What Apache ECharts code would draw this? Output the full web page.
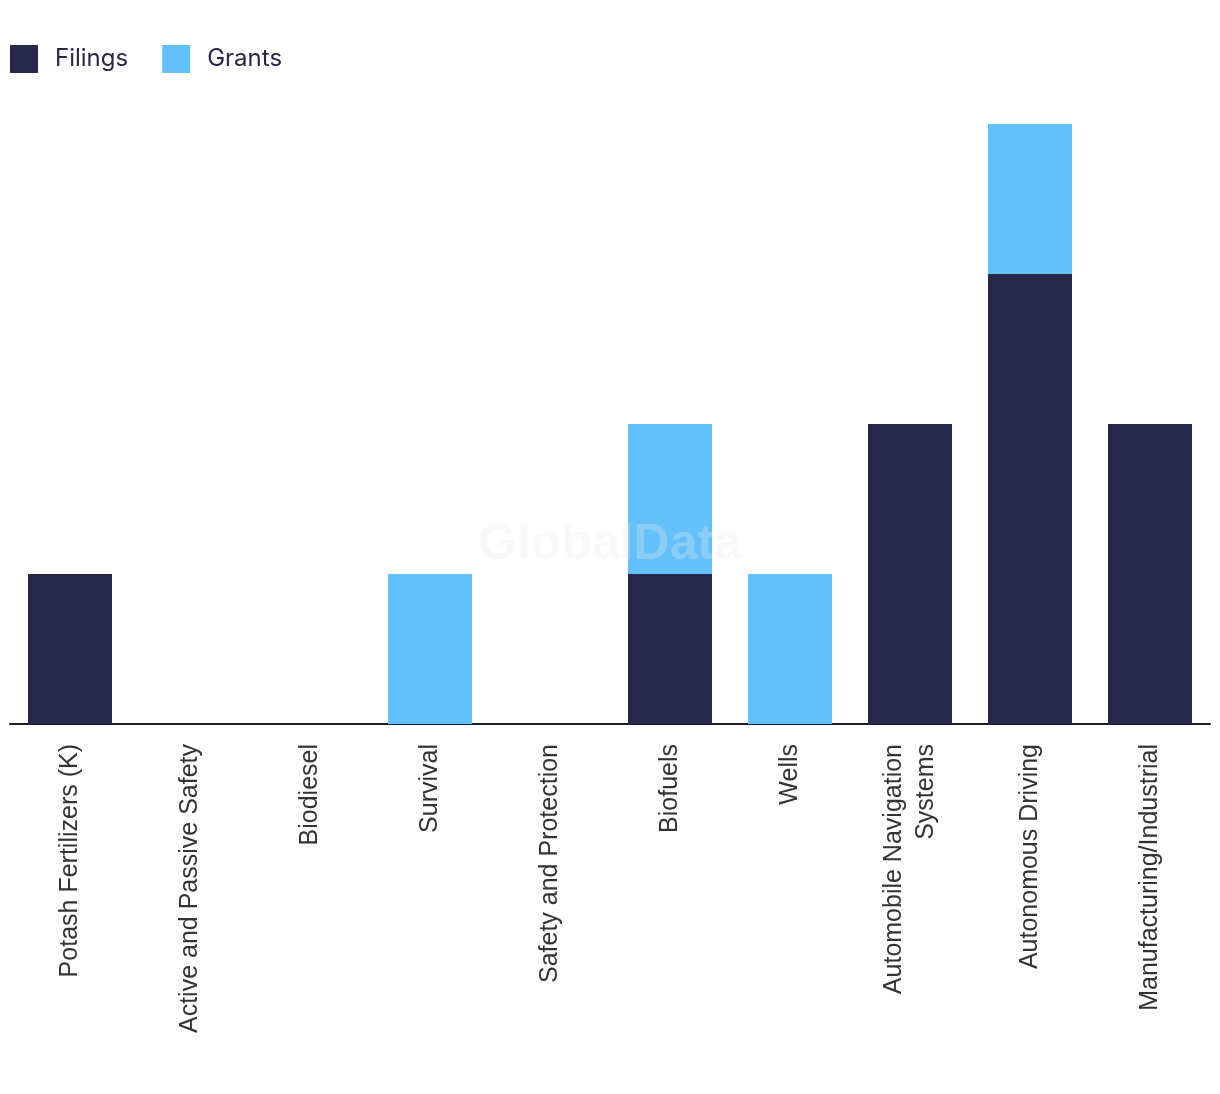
<!DOCTYPE html>
<html>
<head>
<meta charset="utf-8">
<script src="https://cdn.jsdelivr.net/npm/echarts@6/dist/echarts.min.js"></script>
<style>html,body{margin:0;padding:0;background:#fff}#c{width:1220px;height:1094px}</style>
</head>
<body>
<div id="c"></div>
<script>
const categories = ["Potash Fertilizers (K)", "Active and Passive Safety", "Biodiesel", "Survival", "Safety and Protection", "Biofuels", "Wells", "Automobile Navigation\nSystems", "Autonomous Driving", "Manufacturing/Industrial"];
const filings = [1, 0, 0, 0, 0, 1, 0, 2, 3, 2];
const grants = [0, 0, 0, 1, 0, 1, 1, 0, 1, 0];

const chart = echarts.init(document.getElementById('c'));
chart.setOption({
  animation: false,
  legend: {
    left: 5, top: 40, itemWidth: 28, itemHeight: 28, itemGap: 34,
    icon: 'rect',
    textStyle: { fontFamily: 'Inter', fontSize: 24, color: '#262749', padding: [0, 0, 0, 12] },
    data: ['Filings', 'Grants']
  },
  grid: { left: 10, right: 10, top: 124, bottom: 370, containLabel: false },
  xAxis: {
    type: 'category', data: categories,
    axisLine: { lineStyle: { color: '#1a1b2e', width: 2 } },
    axisTick: { show: false },
    axisLabel: { rotate: 90, interval: 0, margin: 20, fontFamily: 'Liberation Sans', fontSize: 25, lineHeight: 32, color: '#333333', align: 'right' }
  },
  yAxis: { type: 'value', min: 0, max: 4, interval: 1, show: false, splitLine: { show: false } },
  series: [
    { name: 'Filings', type: 'bar', stack: 's', data: filings, barCategoryGap: '30%', itemStyle: { color: '#262749' } },
    { name: 'Grants', type: 'bar', stack: 's', data: grants, barCategoryGap: '30%', itemStyle: { color: '#62C1FA' } }
  ],
  graphic: [{
    type: 'text', left: 'center', top: 520, z: 100,
    style: { text: 'GlobalData', fontFamily: 'Liberation Sans', fontWeight: 'bold', fontSize: 50, fill: 'rgba(235,235,235,0.3)' }
  }]
});
</script>
</body>
</html>
